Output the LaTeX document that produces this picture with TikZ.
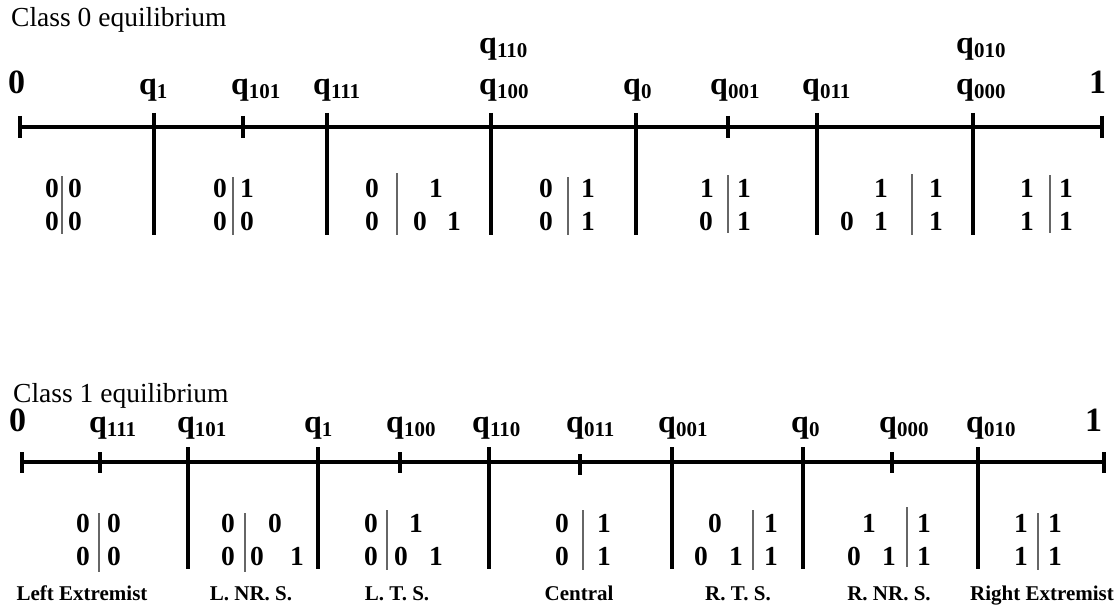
\documentclass[tikz,border=0pt]{standalone}
\usepackage{fontspec}
\setmainfont{Liberation Serif}
\newcommand\myLfont{\bfseries\fontsize{32}{32}\selectfont}
\newcommand\myEfont{\bfseries\fontsize{34}{34}\selectfont}
\newcommand\myDfont{\bfseries\fontsize{27.5}{27.5}\selectfont}
\newcommand\myCfont{\bfseries\fontsize{21}{21}\selectfont}
\newcommand\myTfont{\fontsize{27.5}{27.5}\selectfont}
\newcommand\myQ[1]{q\raisebox{-4pt}{\fontsize{21}{21}\selectfont #1}}
\tikzset{
  axisline/.style={line width=4pt},
  barline/.style={line width=4pt},
  sepline/.style={draw=black!60, line width=1.2pt},
  ql/.style={font=\myLfont, anchor=base west, inner sep=0pt},
  endl/.style={font=\myEfont, anchor=base west, inner sep=0pt},
  dig/.style={font=\myDfont, anchor=base, inner sep=0pt},
  capt/.style={font=\myCfont, anchor=base, inner sep=0pt},
  ttl/.style={font=\myTfont, anchor=base west, inner sep=0pt},
}
\begin{document}
\begin{tikzpicture}[x=1pt,y=-1pt]
\useasboundingbox (0,0) rectangle (1119,607);

% ---------------- Class 0 ----------------
\node[ttl] (title0) at (11,27) {Class 0 equilibrium};
\node[endl] (zeroA) at (8,94) {0};
\node[endl] (oneA) at (1089,94) {1};
\foreach \x/\y/\s [count=\i] in {139/95/1, 231/95/101, 313/95/111, 479/54/110, 479/95/100,
    623/95/0, 710/95/001, 802/95/011, 956/54/010, 956/95/000}
  \node[ql] (qa\i) at (\x,\y) {\myQ{\s}};

\draw[axisline] (20,127) -- (1102,127);
\foreach \x [count=\i] in {20,243,728,1102}
  \draw[barline] (\x,116) -- (\x,138);
\foreach \x [count=\i] in {154,327,491,636,817,973}
  \draw[barline] (\x,113) -- (\x,235);

\foreach \x/\y/\t [count=\i] in {
  52/197/0, 75/197/0, 52/230/0, 75/230/0,
  220/197/0, 247/197/1, 220/230/0, 247/230/0,
  372/197/0, 436/197/1, 372/230/0, 420/230/0, 454/230/1,
  546/197/0, 588/197/1, 546/230/0, 588/230/1,
  707/197/1, 744/197/1, 706/230/0, 744/230/1,
  881/197/1, 936/197/1, 847/230/0, 881/230/1, 936/230/1,
  1027/197/1, 1066/197/1, 1027/230/1, 1066/230/1}
  \node[dig] (da\i) at (\x,\y) {\t};
\foreach \x/\ya/\yb in {62/176/234, 233/177/235, 397/173/235, 568/177/235,
    728/175/233, 912/174/235, 1050/175/233}
  \draw[sepline] (\x,\ya) -- (\x,\yb);

% ---------------- Class 1 ----------------
\node[ttl] (title1) at (13,402) {Class 1 equilibrium};
\node[endl] (zeroB) at (9,431) {0};
\node[endl] (oneB) at (1085,431) {1};
\foreach \x/\y/\s [count=\i] in {89/432/111, 177/432/101, 304/432/1, 386/432/100, 472/432/110,
    566/432/011, 658/432/001, 791/432/0, 879/432/000, 966/432/010}
  \node[ql] (qb\i) at (\x,\y) {\myQ{\s}};

\draw[axisline] (22,462) -- (1104,462);
\foreach \x [count=\i] in {22,100,400,892,1104}
  \draw[barline] (\x,452) -- (\x,473);
\draw[barline] (580,454) -- (580,475);
\foreach \x [count=\i] in {188,318,489,672,803,978}
  \draw[barline] (\x,447) -- (\x,569);

\foreach \x/\y/\t [count=\i] in {
  83/532/0, 114/532/0, 83/565/0, 114/565/0,
  228/532/0, 275/532/0, 228/565/0, 257/565/0, 297/565/1,
  371/532/0, 416/532/1, 371/565/0, 401/565/0, 436/565/1,
  562/532/0, 604/532/1, 562/565/0, 604/565/1,
  715/532/0, 771/532/1, 701/565/0, 736/565/1, 771/565/1,
  869/532/1, 924/532/1, 854/565/0, 889/565/1, 924/565/1,
  1021/532/1, 1055/532/1, 1021/565/1, 1055/565/1}
  \node[dig] (db\i) at (\x,\y) {\t};
\foreach \x/\ya/\yb in {99/513/572, 245/513/572, 387/510/570, 583/510/570,
    753/510/570, 907/507/567, 1038/513/570}
  \draw[sepline] (\x,\ya) -- (\x,\yb);

\foreach \x/\t [count=\i] in {82/Left Extremist, 251/L. NR. S., 397/L. T. S., 579/Central,
    738/R. T. S., 889/R. NR. S., 1042/Right Extremist}
  \node[capt] (cap\i) at (\x,600) {\t};
\end{tikzpicture}
\end{document}
